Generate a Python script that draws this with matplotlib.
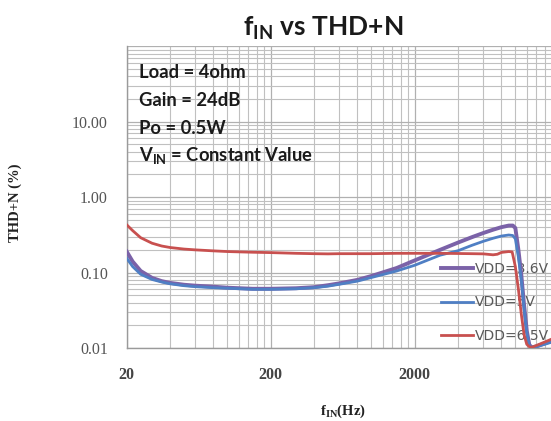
import matplotlib
matplotlib.use("Agg")
import matplotlib.pyplot as plt
from matplotlib.ticker import FixedLocator, NullFormatter

# ---- data ----
freq_36 = [20, 22, 25, 30, 35, 40, 50, 60, 80, 100, 150, 200, 300, 400, 500, 600, 800,
           1000, 1500, 2000, 3000, 4000, 5000, 6000, 7000, 8000, 9000, 9600, 10000,
           10500, 11000, 11500, 12000, 12500, 13000, 14000, 16000, 18000, 20000]
thd_36 = [0.19, 0.14, 0.105, 0.085, 0.077, 0.073, 0.069, 0.067, 0.065, 0.063, 0.061, 0.061,
          0.062, 0.064, 0.068, 0.072, 0.080, 0.090, 0.115, 0.145, 0.200, 0.250, 0.295,
          0.335, 0.370, 0.400, 0.420, 0.420, 0.390, 0.200, 0.093, 0.037, 0.017, 0.011,
          0.0102, 0.0105, 0.0115, 0.0125, 0.0135]

freq_5 = [20, 22, 25, 30, 35, 40, 50, 60, 80, 100, 150, 200, 300, 400, 500, 600, 800,
          1000, 1500, 2000, 3000, 4000, 5000, 6000, 7000, 8000, 9000, 9600, 10000,
          10500, 11000, 11500, 12000, 12500, 13000, 14000, 16000, 18000, 20000]
thd_5 = [0.155, 0.12, 0.095, 0.081, 0.075, 0.071, 0.067, 0.065, 0.063, 0.062, 0.060, 0.060,
         0.061, 0.063, 0.066, 0.070, 0.077, 0.086, 0.105, 0.125, 0.170, 0.195, 0.230,
         0.260, 0.285, 0.305, 0.315, 0.310, 0.280, 0.160, 0.080, 0.033, 0.016, 0.0108,
         0.0101, 0.0104, 0.0112, 0.0120, 0.0128]

freq_65 = [20, 22, 25, 30, 35, 40, 50, 60, 80, 100, 150, 200, 300, 400, 500, 600, 800,
           1000, 1500, 2000, 3000, 4000, 5000, 6000, 7000, 7500, 8000, 9000, 9500, 10000,
           10500, 11000, 11500, 12000, 12500, 13000, 14000, 16000, 18000, 20000]
thd_65 = [0.43, 0.36, 0.29, 0.245, 0.225, 0.215, 0.205, 0.200, 0.194, 0.190, 0.186, 0.184,
          0.180, 0.178, 0.177, 0.178, 0.178, 0.178, 0.180, 0.180, 0.180, 0.179, 0.178,
          0.177, 0.172, 0.175, 0.185, 0.190, 0.188, 0.120, 0.060, 0.028, 0.015, 0.0112,
          0.0104, 0.0102, 0.0108, 0.0120, 0.0132, 0.0145]

series_labels = ["VDD=3.6V", "VDD=5V", "VDD=6.5V"]
series_colors = ["#7b62a8", "#4f7fc4", "#c8504f"]

ytick_vals = [0.01, 0.1, 1, 10, 100]
ytick_labels = ["0.01", "0.10", "1.00", "10.00", ""]
xtick_vals = [20, 200, 2000, 20000]
xtick_labels = ["20", "200", "2000", ""]

notes = ["Load = 4ohm", "Gain = 24dB", "Po = 0.5W", r"V$_\mathregular{IN}$ = Constant Value"]

# ---- figure ----
W, H = 551, 421
fig = plt.figure(figsize=(W / 100, H / 100), dpi=100)
fig.patch.set_facecolor("white")

ax_l, ax_r, ax_b, ax_t = 126.7, 558.7, 348.0, 46.3
ax = fig.add_axes([ax_l / W, 1 - ax_b / H, (ax_r - ax_l) / W, (ax_b - ax_t) / H])
ax.set_xscale("log")
ax.set_yscale("log")
ax.set_xlim(20, 20000)
ax.set_ylim(0.01, 100)

# grid (Excel-style minor gridlines at multiples)
xminor = [m * k for m in (20, 200, 2000) for k in range(2, 10)]
yminor = [d * k for d in (0.01, 0.1, 1, 10) for k in range(2, 10)]
ax.xaxis.set_major_locator(FixedLocator(xtick_vals))
ax.xaxis.set_minor_locator(FixedLocator(xminor))
ax.yaxis.set_major_locator(FixedLocator(ytick_vals))
ax.yaxis.set_minor_locator(FixedLocator(yminor))
ax.set_xticklabels(xtick_labels)
ax.set_yticklabels(ytick_labels)
ax.xaxis.set_minor_formatter(NullFormatter())
ax.yaxis.set_minor_formatter(NullFormatter())
ax.grid(True, which="major", color="#b0b0b0", linewidth=0.9)
ax.grid(True, which="minor", color="#c0c0c0", linewidth=0.8)
ax.set_axisbelow(True)

ax.tick_params(which="both", length=0)
ax.tick_params(axis="y", pad=13.5, labelsize=11.5, labelcolor="#555555")
ax.tick_params(axis="x", pad=14, labelsize=11.5, labelcolor="#444444")
for lab in ax.get_yticklabels() + ax.get_xticklabels():
    lab.set_fontfamily("Liberation Serif")
for lab in ax.get_xticklabels():
    lab.set_fontweight("bold")

for s in ("top", "right"):
    ax.spines[s].set_visible(False)
for s in ("left", "bottom"):
    ax.spines[s].set_color("#9a9a9a")
    ax.spines[s].set_linewidth(1.0)

# curves
lines = []
for f, v, lab, col, lw in zip([freq_36, freq_5, freq_65], [thd_36, thd_5, thd_65],
                              series_labels, series_colors, [2.8, 2.0, 2.0]):
    ln, = ax.plot(f, v, color=col, linewidth=lw, label=lab, zorder=4,
                  solid_joinstyle="round", clip_on=True)
    lines.append(ln)

leg = ax.legend(handles=lines, loc="upper left",
                bbox_to_anchor=(441 / W, 1 - 262 / H), bbox_transform=fig.transFigure,
                frameon=False, borderpad=0, borderaxespad=0,
                handlelength=2.3, handletextpad=0.15, labelspacing=1.4,
                prop={"family": "DejaVu Sans", "size": 10})
for t in leg.get_texts():
    t.set_color("#595959")
leg.set_zorder(2)

# annotation block
note_y = [72, 100, 128, 155]
for txt, yy in zip(notes, note_y):
    fig.text(139 / W, 1 - yy / H, txt, ha="left", va="center",
             family="Lato", weight="bold", fontsize=13.2, color="#1a1a1a")

# title
fig.text(323 / W, 1 - 28 / H, r"f$_\mathregular{IN}$ vs THD+N", ha="center", va="center",
         family="Lato", weight="bold", fontsize=19, color="#1a1a1a")

# axis labels
ax.set_xlabel(r"f$_\mathregular{IN}$(Hz)", family="Liberation Serif", weight="bold",
              fontsize=10.5, color="#222222")
ax.xaxis.set_label_coords((343 - ax_l) / (ax_r - ax_l), (ax_b - 411.7) / (ax_b - ax_t))
ax.xaxis.label.set_va("center")
ax.set_ylabel("THD+N (%)", family="Liberation Serif", weight="bold",
              fontsize=10.5, color="#222222")
ax.yaxis.set_label_coords((15 - ax_l) / (ax_r - ax_l), (ax_b - 203) / (ax_b - ax_t))
ax.yaxis.label.set_va("center")

fig.savefig("out.png", dpi=100)
